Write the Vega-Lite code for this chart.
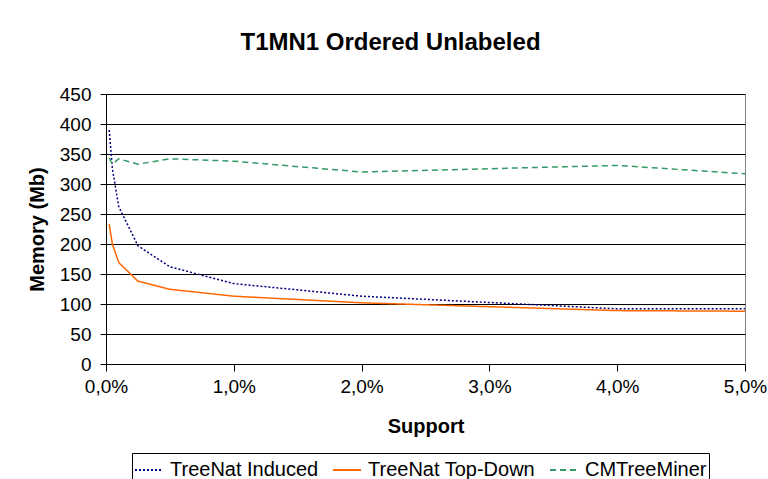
{
  "$schema": "https://vega.github.io/schema/vega-lite/v6.json",
  "width": 639,
  "height": 270,
  "autosize": {"type": "none"},
  "padding": {"left": 106, "top": 94, "right": 23, "bottom": 115},
  "background": "white",
  "title": {
    "text": "T1MN1 Ordered Unlabeled",
    "font": "Liberation Sans",
    "fontSize": 24,
    "fontWeight": "bold",
    "color": "black",
    "offset": 30,
    "dx": -35
  },
  "data": {
    "values": [
      {"support": 0.00025, "memory": 390, "series": "TreeNat Induced"},
      {"support": 0.0005, "memory": 325, "series": "TreeNat Induced"},
      {"support": 0.001, "memory": 262, "series": "TreeNat Induced"},
      {"support": 0.0025, "memory": 197, "series": "TreeNat Induced"},
      {"support": 0.005, "memory": 162, "series": "TreeNat Induced"},
      {"support": 0.01, "memory": 134, "series": "TreeNat Induced"},
      {"support": 0.02, "memory": 113, "series": "TreeNat Induced"},
      {"support": 0.04, "memory": 92, "series": "TreeNat Induced"},
      {"support": 0.05, "memory": 92, "series": "TreeNat Induced"},
      {"support": 0.00025, "memory": 233, "series": "TreeNat Top-Down"},
      {"support": 0.0005, "memory": 200, "series": "TreeNat Top-Down"},
      {"support": 0.001, "memory": 169, "series": "TreeNat Top-Down"},
      {"support": 0.0025, "memory": 138, "series": "TreeNat Top-Down"},
      {"support": 0.005, "memory": 124.5, "series": "TreeNat Top-Down"},
      {"support": 0.01, "memory": 113, "series": "TreeNat Top-Down"},
      {"support": 0.02, "memory": 102, "series": "TreeNat Top-Down"},
      {"support": 0.04, "memory": 89, "series": "TreeNat Top-Down"},
      {"support": 0.05, "memory": 88, "series": "TreeNat Top-Down"},
      {"support": 0.00025, "memory": 343, "series": "CMTreeMiner"},
      {"support": 0.0005, "memory": 333, "series": "CMTreeMiner"},
      {"support": 0.001, "memory": 342, "series": "CMTreeMiner"},
      {"support": 0.0025, "memory": 333, "series": "CMTreeMiner"},
      {"support": 0.005, "memory": 342, "series": "CMTreeMiner"},
      {"support": 0.01, "memory": 338, "series": "CMTreeMiner"},
      {"support": 0.02, "memory": 320, "series": "CMTreeMiner"},
      {"support": 0.04, "memory": 331, "series": "CMTreeMiner"},
      {"support": 0.05, "memory": 317, "series": "CMTreeMiner"}
    ]
  },
  "mark": {"type": "line", "strokeWidth": 1.5},
  "encoding": {
    "x": {
      "field": "support",
      "type": "quantitative",
      "scale": {"domain": [0, 0.05], "nice": false},
      "axis": {
        "title": "Support",
        "values": [0, 0.01, 0.02, 0.03, 0.04, 0.05],
        "labelExpr": "replace(format(datum.value, '.1%'), '.', ',')",
        "labelFlush": false,
        "labelOverlap": false,
        "grid": false,
        "domainColor": "black",
        "tickColor": "black",
        "tickSize": 7,
        "labelPadding": 6,
        "titlePadding": 20
      }
    },
    "y": {
      "field": "memory",
      "type": "quantitative",
      "scale": {"domain": [0, 450], "nice": false},
      "axis": {
        "title": "Memory (Mb)",
        "values": [0, 50, 100, 150, 200, 250, 300, 350, 400, 450],
        "labelFlush": false,
        "labelOverlap": false,
        "grid": true,
        "gridColor": "black",
        "gridWidth": 1,
        "domainColor": "black",
        "tickColor": "black",
        "tickSize": 6,
        "labelPadding": 9,
        "titlePadding": 12
      }
    },
    "color": {
      "field": "series",
      "type": "nominal",
      "scale": {
        "domain": ["TreeNat Induced", "TreeNat Top-Down", "CMTreeMiner"],
        "range": ["#000080", "#FF6600", "#339966"]
      },
      "legend": {"title": null}
    },
    "strokeDash": {
      "field": "series",
      "type": "nominal",
      "scale": {
        "domain": ["TreeNat Induced", "TreeNat Top-Down", "CMTreeMiner"],
        "range": [[2, 2], [1, 0], [6, 4]]
      },
      "legend": {"title": null}
    }
  },
  "config": {
    "font": "Liberation Sans",
    "view": {"stroke": "#808080", "strokeWidth": 1},
    "axis": {
      "labelFont": "Liberation Sans",
      "labelFontSize": 19,
      "labelColor": "black",
      "titleFont": "Liberation Sans",
      "titleFontSize": 20,
      "titleFontWeight": "bold",
      "titleColor": "black"
    },
    "legend": {
      "orient": "none",
      "legendX": 26,
      "legendY": 359,
      "direction": "horizontal",
      "labelFont": "Liberation Sans",
      "labelFontSize": 20,
      "labelColor": "black",
      "labelLimit": 300,
      "symbolType": "stroke",
      "symbolSize": 784,
      "symbolStrokeWidth": 2,
      "strokeColor": "black",
      "padding": 2,
      "columnPadding": 10,
      "labelOffset": 6
    }
  }
}
